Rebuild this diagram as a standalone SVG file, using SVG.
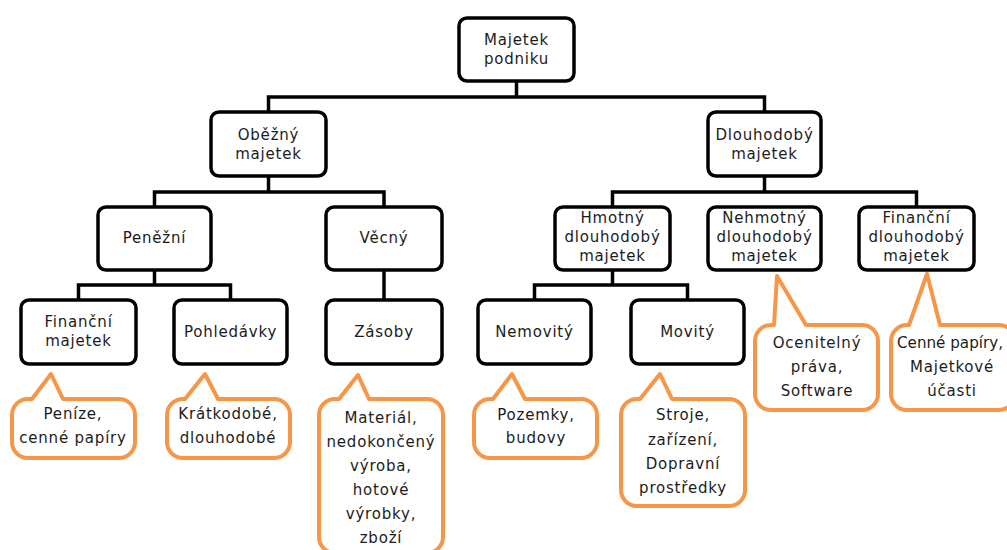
<svg xmlns="http://www.w3.org/2000/svg" width="1007" height="550" viewBox="0 0 1007 550">
<style>
.box{fill:#fff;stroke:#000;stroke-width:3.5}
.co{fill:#fff;stroke:#F79646;stroke-width:4;stroke-linejoin:round}
.ln{fill:none;stroke:#000;stroke-width:3.5}
text{font-family:"DejaVu Sans",Verdana,sans-serif;font-size:15px;letter-spacing:0.8px;fill:#1c1c1c;text-anchor:middle}
</style>
<rect width="1007" height="550" fill="#fff"/>
<g id="connectors">
<path class="ln" d="M516.5,82 V97 M268.5,111 V97 H764.5 V111"/>
<path class="ln" d="M268.5,176 V192 M154.5,206 V192 H384 V206"/>
<path class="ln" d="M764.5,176 V192 M612.5,206 V192 H916.5 V206"/>
<path class="ln" d="M154.5,271 V285 M78.5,299 V285 H230.5 V299"/>
<path class="ln" d="M384,271 V299"/>
<path class="ln" d="M612.5,271 V285 M534.5,299 V285 H687.5 V299"/>
</g>
<g id="root"><rect class="box" x="459" y="18" width="115" height="63" rx="8"/><text x="516.5" y="45">Majetek</text><text x="516.5" y="64">podniku</text></g>
<g id="obezny"><rect class="box" x="211" y="112" width="115" height="64" rx="8"/><text x="268.5" y="140">Oběžný</text><text x="268.5" y="159">majetek</text></g>
<g id="dlouhodoby"><rect class="box" x="708" y="112" width="113" height="64" rx="8"/><text x="764.5" y="140">Dlouhodobý</text><text x="764.5" y="159">majetek</text></g>
<g id="penezni"><rect class="box" x="98" y="207" width="113" height="63" rx="8"/><text x="154.5" y="243">Peněžní</text></g>
<g id="vecny"><rect class="box" x="326" y="207" width="116" height="63" rx="8"/><text x="384" y="243">Věcný</text></g>
<g id="hmotny"><rect class="box" x="555" y="207" width="115" height="63" rx="8"/><text x="612.5" y="223">Hmotný</text><text x="612.5" y="242">dlouhodobý</text><text x="612.5" y="261">majetek</text></g>
<g id="nehmotny"><rect class="box" x="708" y="207" width="113" height="63" rx="8"/><text x="764.5" y="223">Nehmotný</text><text x="764.5" y="242">dlouhodobý</text><text x="764.5" y="261">majetek</text></g>
<g id="financni-dl"><rect class="box" x="859" y="207" width="115" height="63" rx="8"/><text x="916.5" y="223">Finanční</text><text x="916.5" y="242">dlouhodobý</text><text x="916.5" y="261">majetek</text></g>
<g id="financni-maj"><rect class="box" x="21" y="300" width="115" height="64" rx="8"/><text x="78.5" y="327">Finanční</text><text x="78.5" y="346">majetek</text></g>
<g id="pohledavky"><rect class="box" x="174" y="300" width="113" height="64" rx="8"/><text x="230.5" y="337">Pohledávky</text></g>
<g id="zasoby"><rect class="box" x="326" y="300" width="116" height="64" rx="8"/><text x="384" y="337">Zásoby</text></g>
<g id="nemovity"><rect class="box" x="478" y="300" width="113" height="64" rx="8"/><text x="534.5" y="337">Nemovitý</text></g>
<g id="movity"><rect class="box" x="631" y="300" width="113" height="64" rx="8"/><text x="687.5" y="337">Movitý</text></g>
<g id="callout-penize"><path class="co" d="M28,399 L32,399 L51,374 L63,399 L119,399 A16,16 0 0 1 135,415 L135,442 A16,16 0 0 1 119,458 L28,458 A16,16 0 0 1 12,442 L12,415 A16,16 0 0 1 28,399 Z"/><text x="73" y="419">Peníze,</text><text x="73" y="443">cenné papíry</text></g>
<g id="callout-kratkodobe"><path class="co" d="M183,399 L185,399 L205,374 L218,399 L274,399 A16,16 0 0 1 290,415 L290,442 A16,16 0 0 1 274,458 L183,458 A16,16 0 0 1 167,442 L167,415 A16,16 0 0 1 183,399 Z"/><text x="228" y="419">Krátkodobé,</text><text x="228" y="443">dlouhodobé</text></g>
<g id="callout-material"><path class="co" d="M335,399 L339,399 L358,375 L369,399 L427,399 A16,16 0 0 1 443,415 L443,537 A16,16 0 0 1 427,553 L335,553 A16,16 0 0 1 319,537 L319,415 A16,16 0 0 1 335,399 Z"/><text x="381" y="423">Materiál,</text><text x="381" y="447">nedokončený</text><text x="381" y="471">výroba,</text><text x="381" y="495">hotové</text><text x="381" y="519">výrobky,</text><text x="381" y="543">zboží</text></g>
<g id="callout-pozemky"><path class="co" d="M490,399 L493,399 L512,374 L525,399 L581,399 A16,16 0 0 1 597,415 L597,442 A16,16 0 0 1 581,458 L490,458 A16,16 0 0 1 474,442 L474,415 A16,16 0 0 1 490,399 Z"/><text x="536" y="420">Pozemky,</text><text x="536" y="443">budovy</text></g>
<g id="callout-stroje"><path class="co" d="M637,399 L640,399 L660,374 L672,399 L729,399 A16,16 0 0 1 745,415 L745,490 A16,16 0 0 1 729,506 L637,506 A16,16 0 0 1 621,490 L621,415 A16,16 0 0 1 637,399 Z"/><text x="683" y="420">Stroje,</text><text x="683" y="445">zařízení,</text><text x="683" y="469">Dopravní</text><text x="683" y="493">prostředky</text></g>
<g id="callout-ocenitelny"><path class="co" d="M771,325 L774,325 L777,276 L806,325 L862,325 A16,16 0 0 1 878,341 L878,394 A16,16 0 0 1 862,410 L771,410 A16,16 0 0 1 755,394 L755,341 A16,16 0 0 1 771,325 Z"/><text x="817" y="348">Ocenitelný</text><text x="817" y="372">práva,</text><text x="817" y="396">Software</text></g>
<g id="callout-cenne"><path class="co" d="M907,325 L909,325 L927,274 L940,325 L999,325 A16,16 0 0 1 1015,341 L1015,394 A16,16 0 0 1 999,410 L907,410 A16,16 0 0 1 891,394 L891,341 A16,16 0 0 1 907,325 Z"/><text x="950" y="348" style="letter-spacing:0px" textLength="106" lengthAdjust="spacingAndGlyphs">Cenné papíry,</text><text x="952" y="372">Majetkové</text><text x="952" y="396">účasti</text></g>
</svg>
